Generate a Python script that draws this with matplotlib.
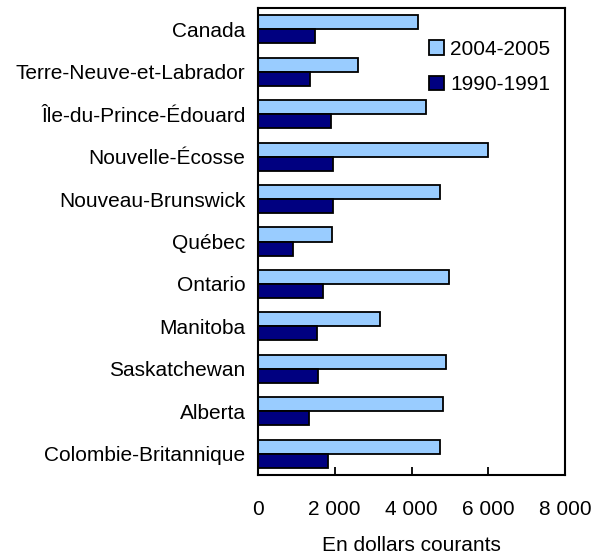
import matplotlib
matplotlib.use('Agg')
import matplotlib.pyplot as plt
import numpy as np

plt.rcParams['font.family'] = ['Liberation Sans', 'DejaVu Sans']

# -- data --
provinces = ['Canada', 'Terre-Neuve-et-Labrador', 'Île-du-Prince-Édouard',
             'Nouvelle-Écosse', 'Nouveau-Brunswick', 'Québec', 'Ontario',
             'Manitoba', 'Saskatchewan', 'Alberta', 'Colombie-Britannique']
val_2004 = [4175, 2610, 4390, 6000, 4740, 1920, 4965, 3180, 4910, 4820, 4750]
val_1990 = [1485, 1355, 1890, 1960, 1945, 920, 1700, 1545, 1570, 1330, 1830]
x_ticks = [0, 2000, 4000, 6000, 8000]
x_tick_labels = ['0', '2 000', '4 000', '6 000', '8 000']

fs = 15

fig = plt.figure(figsize=(5.93, 5.56), dpi=100)
ax = fig.add_axes([258/593, 81/556, 307/593, 467/556])

y = np.arange(len(provinces))
h = 0.33
ax.barh(y - h/2, val_2004, height=h, color='#99ccff', edgecolor='black',
        linewidth=1.3, label='2004-2005')
ax.barh(y + h/2, val_1990, height=h, color='#000080', edgecolor='black',
        linewidth=1.3, label='1990-1991')

ax.set_ylim(len(provinces) - 0.5, -0.5)
ax.set_xlim(0, 8000)
ax.set_yticks(y)
ax.set_yticklabels(provinces, fontsize=fs)
ax.tick_params(axis='y', length=0, pad=9)
ax.set_xticks(x_ticks)
ax.set_xticklabels(x_tick_labels, fontsize=fs)
ax.tick_params(axis='x', direction='in', length=6, width=1.3, pad=18)
for s in ax.spines.values():
    s.set_linewidth(1.5)

ax.set_xlabel('En dollars courants', fontsize=fs, labelpad=12)

ax.legend(loc='upper left', bbox_to_anchor=(0.53, 0.95), frameon=False,
          fontsize=fs, handlelength=0.7, handleheight=0.7,
          handletextpad=0.3, labelspacing=0.8, borderaxespad=0)

plt.savefig('out.png', dpi=100)
